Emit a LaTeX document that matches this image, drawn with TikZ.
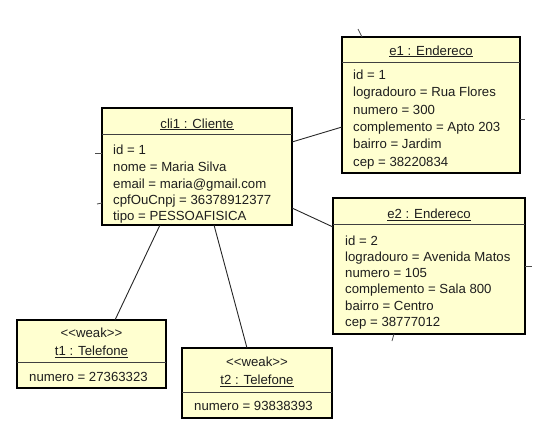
\documentclass[tikz,border=0pt]{standalone}
\usepackage{fontspec}
\setmainfont{Liberation Sans}
\definecolor{objfill}{RGB}{255,255,208}
\definecolor{txt}{RGB}{30,30,30}
\begin{document}
\begin{tikzpicture}[x=1pt,y=-1pt,
  obj/.style={draw=black, line width=2.2pt, fill=objfill, anchor=north west, inner sep=0pt, outer sep=0pt},
  sepline/.style={draw=black!75, line width=0.8pt},
  attr/.style={anchor=base west, inner sep=0pt, text=txt, font=\fontsize{13.2}{15}\selectfont},
  ttl/.style={anchor=base, inner sep=0pt, text=txt, font=\fontsize{13.2}{15}\selectfont},
  link/.style={draw=black!85, line width=0.9pt},
  stub/.style={draw=black!70, line width=0.8pt}]
\useasboundingbox (0,0) rectangle (540,434);

% ---- cli1 : Cliente
\node[obj, minimum width=190pt, minimum height=117pt] (cli1) at (102,108) {};
\draw[sepline] (102,134) -- (292,134);
\node[ttl] (cli1t) at (197,128) {\underline{cli1 : Cliente}};
\node[attr] (c1) at (113,154.5) {id = 1};
\node[attr] (c2) at (113,171.5) {nome = Maria Silva};
\node[attr] (c3) at (113,188) {email = maria@gmail.com};
\node[attr] (c4) at (113,204) {cpfOuCnpj = 36378912377};
\node[attr] (c5) at (113,220) {tipo = PESSOAFISICA};

% ---- e1 : Endereco
\node[obj, minimum width=178pt, minimum height=136pt] (e1) at (342,37) {};
\draw[sepline] (342,62) -- (520,62);
\node[ttl] (e1t) at (431,55) {\underline{e1 : Endereco}};
\node[attr] (a1) at (353,79.5) {id = 1};
\node[attr] (a2) at (353,96.8) {logradouro = Rua Flores};
\node[attr] (a3) at (353,114.1) {numero = 300};
\node[attr] (a4) at (353,131.4) {complemento = Apto 203};
\node[attr] (a5) at (353,148.7) {bairro = Jardim};
\node[attr] (a6) at (353,166) {cep = 38220834};

% ---- e2 : Endereco
\node[obj, minimum width=192pt, minimum height=136pt] (e2) at (333,198) {};
\draw[sepline] (333,224) -- (525,224);
\node[ttl] (e2t) at (429,218.5) {\underline{e2 : Endereco}};
\node[attr] (b1) at (345,245.2) {id = 2};
\node[attr] (b2) at (345,261.4) {logradouro = Avenida Matos};
\node[attr] (b3) at (345,277.6) {numero = 105};
\node[attr] (b4) at (345,293.8) {complemento = Sala 800};
\node[attr] (b5) at (345,310) {bairro = Centro};
\node[attr] (b6) at (345,326.2) {cep = 38777012};

% ---- t1 : Telefone
\node[obj, minimum width=149pt, minimum height=68pt] (t1) at (17,320) {};
\draw[sepline] (17,362) -- (166,362);
\node[ttl] (t1s) at (91.5,337.5) {<{}<weak>{}>};
\node[ttl] (t1t) at (91.5,355.5) {\underline{t1 : Telefone}};
\node[attr] (t1a) at (29,381) {numero = 27363323};

% ---- t2 : Telefone
\node[obj, minimum width=150pt, minimum height=70pt] (t2) at (182,348) {};
\draw[sepline] (182,392) -- (332,392);
\node[ttl] (t2s) at (257,366) {<{}<weak>{}>};
\node[ttl] (t2t) at (257,384.5) {\underline{t2 : Telefone}};
\node[attr] (t2a) at (194,410.5) {numero = 93838393};

% ---- connectors
\draw[link] ([yshift=-34pt]cli1.north east) -- ([yshift=-90pt]e1.north west);
\draw[link] ([yshift=-100pt]cli1.north east) -- ([yshift=-29pt]e2.north west);
\draw[link] ([xshift=58pt]cli1.south west) -- ([xshift=98pt]t1.north west);
\draw[link] ([xshift=112pt]cli1.south west) -- ([xshift=65pt]t2.north west);

% ---- short stubs of cut connectors
\coordinate (s1) at (95,153);
\coordinate (s2) at (97,204);
\coordinate (s3) at (525,119);
\coordinate (s4) at (532,266);
\coordinate (s5) at (392,341);
\coordinate (s6) at (358,29);
\draw[stub] ([yshift=-45pt]cli1.north west) -- (s1);
\draw[stub] ([yshift=-95pt]cli1.north west) -- (s2);
\draw[stub] ([yshift=-82pt]e1.north east) -- (s3);
\draw[stub] ([yshift=-68pt]e2.north east) -- (s4);
\draw[stub] ([xshift=61pt]e2.south west) -- (s5);
\draw[stub] ([xshift=20pt]e1.north west) -- (s6);
\end{tikzpicture}
\end{document}
